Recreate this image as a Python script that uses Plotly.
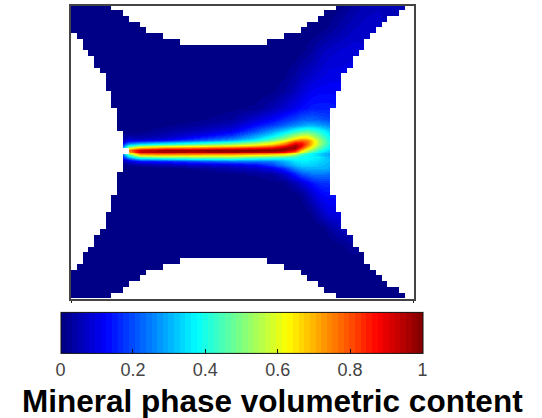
import plotly.graph_objects as go

# Mesh node positions of the field table (columns, rows of the mesh)
field_cols = [0, 8, 10, 12, 16, 22, 28, 32, 35, 37, 39, 40, 41, 42, 43, 44, 45, 47, 49, 51, 53, 55, 58]
field_rows = [0, 4, 8, 12, 15, 18, 20, 21, 22, 22.7, 23.2, 23.6, 24, 24.3, 24.6, 24.9, 25.25, 25.6,
              25.9, 26.2, 26.5, 26.9, 27.3, 27.9, 28.5, 29.5, 31, 33, 36, 39, 42, 45, 48, 51]

# Mineral phase volumetric content (short rows keep their last value to the right)
field_values = [
    [0,0,0,0,0,0,0,0,0,0,0,0,0,0,0,0,0,.01,.03,.05,.06,.06,.05],
    [0,0,0,0,0,0,0,0,0,0,0,0,0,0,0,.01,.02,.04,.06,.07,.07,.06,.05],
    [0,0,0,0,0,0,0,0,0,0,0,.01,.02,.03,.05,.06,.07,.08,.09,.08,.07,.06,.05],
    [0,0,0,0,0,0,0,0,0,.01,.03,.05,.06,.07,.08,.09,.10,.10,.10,.08,.07,.06,.05],
    [0,0,0,0,0,0,0,0,.01,.03,.06,.08,.10,.11,.12,.12,.12,.12,.10,.08,.07,.06,.05],
    [0,0,0,0,0,0,.01,.02,.05,.08,.11,.13,.14,.15,.15,.15,.15,.14],
    [0,0,0,0,0,.01,.03,.08,.12,.16,.19,.21,.22,.22,.21,.20,.19],
    [0,0,0,0,.01,.03,.06,.13,.18,.22,.26,.28,.30,.30,.29,.27,.25],
    [0,0,.01,.01,.03,.06,.11,.20,.28,.34,.41,.44,.46,.44,.41,.37,.33],
    [0,0,.03,.03,.05,.10,.17,.27,.35,.43,.52,.56,.57,.53,.47,.41,.36],
    [0,0,.06,.05,.07,.15,.23,.32,.42,.50,.62,.67,.66,.60,.52,.44,.38],
    [0,0,.10,.10,.13,.21,.29,.38,.48,.58,.72,.76,.74,.66,.55,.46,.39],
    [0,0,.18,.22,.27,.34,.42,.50,.58,.68,.84,.84,.78,.68,.56,.47,.40],
    [0,0,.28,.35,.40,.46,.52,.58,.66,.76,.92,.88,.78,.67,.55,.46,.40],
    [0,0,.42,.55,.60,.63,.67,.72,.78,.88,.98,.88,.74,.63,.52,.44,.38],
    [0,0,.60,.72,.78,.80,.84,.87,.90,.97,.97,.80,.66,.57,.48,.41,.36],
    [0,0,.75,.92,.97,.98,1,1,1,.98,.88,.70,.58,.50,.43,.38,.33],
    [0,0,.70,.92,.96,.95,.96,.94,.93,.88,.76,.60,.50,.44,.38,.34,.31],
    [0,0,.55,.80,.82,.80,.80,.78,.76,.72,.62,.50,.43,.38,.34,.31,.29],
    [0,0,.40,.66,.68,.67,.66,.63,.60,.58,.50,.42,.38,.36,.34,.31,.29],
    [0,0,.30,.46,.50,.52,.52,.48,.46,.44,.41,.39,.38,.37,.36,.33,.30],
    [0,0,.18,.30,.33,.37,.39,.36,.35,.36,.38,.38,.37,.36,.35,.33,.31],
    [0,0,.08,.14,.16,.20,.24,.24,.25,.30,.35,.36,.36,.35,.34,.32,.31],
    [0,0,.02,.03,.04,.07,.09,.12,.18,.25,.31,.33,.33,.33,.32,.31,.30],
    [0,0,0,0,.01,.02,.05,.07,.11,.17,.26,.29,.30,.30,.30,.30,.29],
    [0,0,0,0,0,0,.01,.02,.03,.07,.15,.20,.22,.24,.24,.24,.23],
    [0,0,0,0,0,0,0,0,.01,.01,.05,.08,.11,.14,.16,.17,.17],
    [0,0,0,0,0,0,0,0,0,0,.01,.02,.05,.08,.11,.13,.13],
    [0,0,0,0,0,0,0,0,0,0,0,0,.01,.02,.05,.08,.10,.10],
    [0,0,0,0,0,0,0,0,0,0,0,0,0,0,0,.01,.03,.06,.06],
    [0,0,0,0,0,0,0,0,0,0,0,0,0,0,0,0,0,.01,.03,.02,0],
    [0],
    [0],
    [0],
]

# Mesh outline: cells left out of the mesh, counted per row (left, right) and per column (top, bottom)
left_gap = [0,0,0,0,0,1,2,2,3,4,4,5,6,6,6,7,7,7,8,8,8,8,9,9,9,10,
            9,9,9,8,8,8,8,7,7,7,6,6,6,5,4,4,3,2,2,1,0,0,0,0,0]
right_end = [58,57,55,54,53,52,51,51,50,49,49,48,47,47,47,46,46,46,45,45,45,45,45,45,45,45,
             45,45,45,45,45,45,45,46,46,46,47,47,47,48,49,49,50,51,51,52,53,54,55,57,58]
notch_depth = [0,0,0,0,0,0,0,1,1,2,3,3,4,5,5,5,6,6,6,7,7,7,7,7,7,7,7,7,7,7,7,7,7,7,
               6,6,6,5,5,5,4,3,3,2,1,1,0,0,0,0,0,0,0,0,0,0,0,0,0,0]

colorbar_ticks = [0, 0.2, 0.4, 0.6, 0.8, 1]
title_text = "Mineral phase volumetric content"

# 64-level jet colormap
def jet(t):
    def ramp(a):
        return max(0.0, min(1.0, 1.5 - abs(4 * t - a)))
    return f"rgb({round(255*ramp(3))},{round(255*ramp(2))},{round(255*ramp(1))})"

levels = 64
jet_scale = []
for k in range(levels):
    c = jet((k + 0.5) / levels)
    jet_scale.append([k / levels, c])
    jet_scale.append([(k + 1) / levels, c])

field_z = [row + [row[-1]] * (len(field_cols) - len(row)) for row in field_values]

n_rows = len(left_gap)
mask_z = []
for i in range(n_rows + 1):
    line = []
    for j in range(len(notch_depth)):
        outside = (i >= n_rows or j < left_gap[i] or j >= right_end[i]
                   or i < notch_depth[j] or i >= n_rows - notch_depth[j])
        line.append(1 if outside else None)
    mask_z.append(line)

fig = go.Figure()
fig.add_trace(go.Heatmap(
    x=field_cols, y=field_rows, z=field_z, zmin=0, zmax=1, zsmooth="best",
    colorscale=jet_scale, hoverinfo="skip",
    colorbar=dict(
        orientation="h", xref="paper", yref="paper",
        x=(60.5 - 71) / 343, xanchor="left", y=-(385 - 299) / 293, yanchor="bottom",
        lenmode="pixels", len=361.5, thicknessmode="pixels", thickness=41,
        outlinecolor="#111111", outlinewidth=1, xpad=0, ypad=0,
        tickmode="array", tickvals=colorbar_ticks,
        ticktext=[f"{v:g}" for v in colorbar_ticks],
        ticks="inside", ticklen=4, tickcolor="#111111", tickwidth=1,
        tickfont=dict(family="Liberation Sans", size=18, color="#444444"),
    ),
))
fig.add_trace(go.Heatmap(
    x=[j + 0.5 for j in range(len(notch_depth))],
    y=[i + 0.5 for i in range(n_rows + 1)],
    z=mask_z, zmin=0, zmax=1, showscale=False, hoverinfo="skip",
    colorscale=[[0, "white"], [1, "white"]],
))

fig.add_annotation(
    text=f"<b>{title_text}</b>", xref="paper", yref="paper",
    x=(272 - 71) / 343, y=-(401 - 299) / 293, xanchor="center", yanchor="middle",
    showarrow=False, font=dict(family="Liberation Sans", size=31.5, color="black"),
)

# Colorbar ticks mirrored along its top edge
for v in colorbar_ticks[1:-1]:
    px = (60.5 + 361.5 * v - 71) / 343
    fig.add_shape(type="line", xref="paper", yref="paper", x0=px, x1=px,
                  y0=-(312 - 299) / 293, y1=-(316 - 299) / 293,
                  line=dict(color="#111111", width=1))

axis_style = dict(showline=True, mirror=True, linecolor="#444444", linewidth=2,
                  showgrid=False, zeroline=False, showticklabels=False)
fig.update_layout(
    width=542, height=418, margin=dict(l=71, r=128, t=6, b=119, autoexpand=False),
    paper_bgcolor="white", plot_bgcolor="white", showlegend=False,
    xaxis=dict(range=[0, 59.67], ticks="outside", ticklen=2, tickcolor="#222222",
               tickmode="array", tickvals=[0.1, 59.5], **axis_style),
    yaxis=dict(range=[51.17, 0.31], ticks="", **axis_style),
)

fig.write_html("out.html", config=dict(displayModeBar=False),
               post_script="document.body.style.margin='0';document.documentElement.style.overflow='hidden';")
